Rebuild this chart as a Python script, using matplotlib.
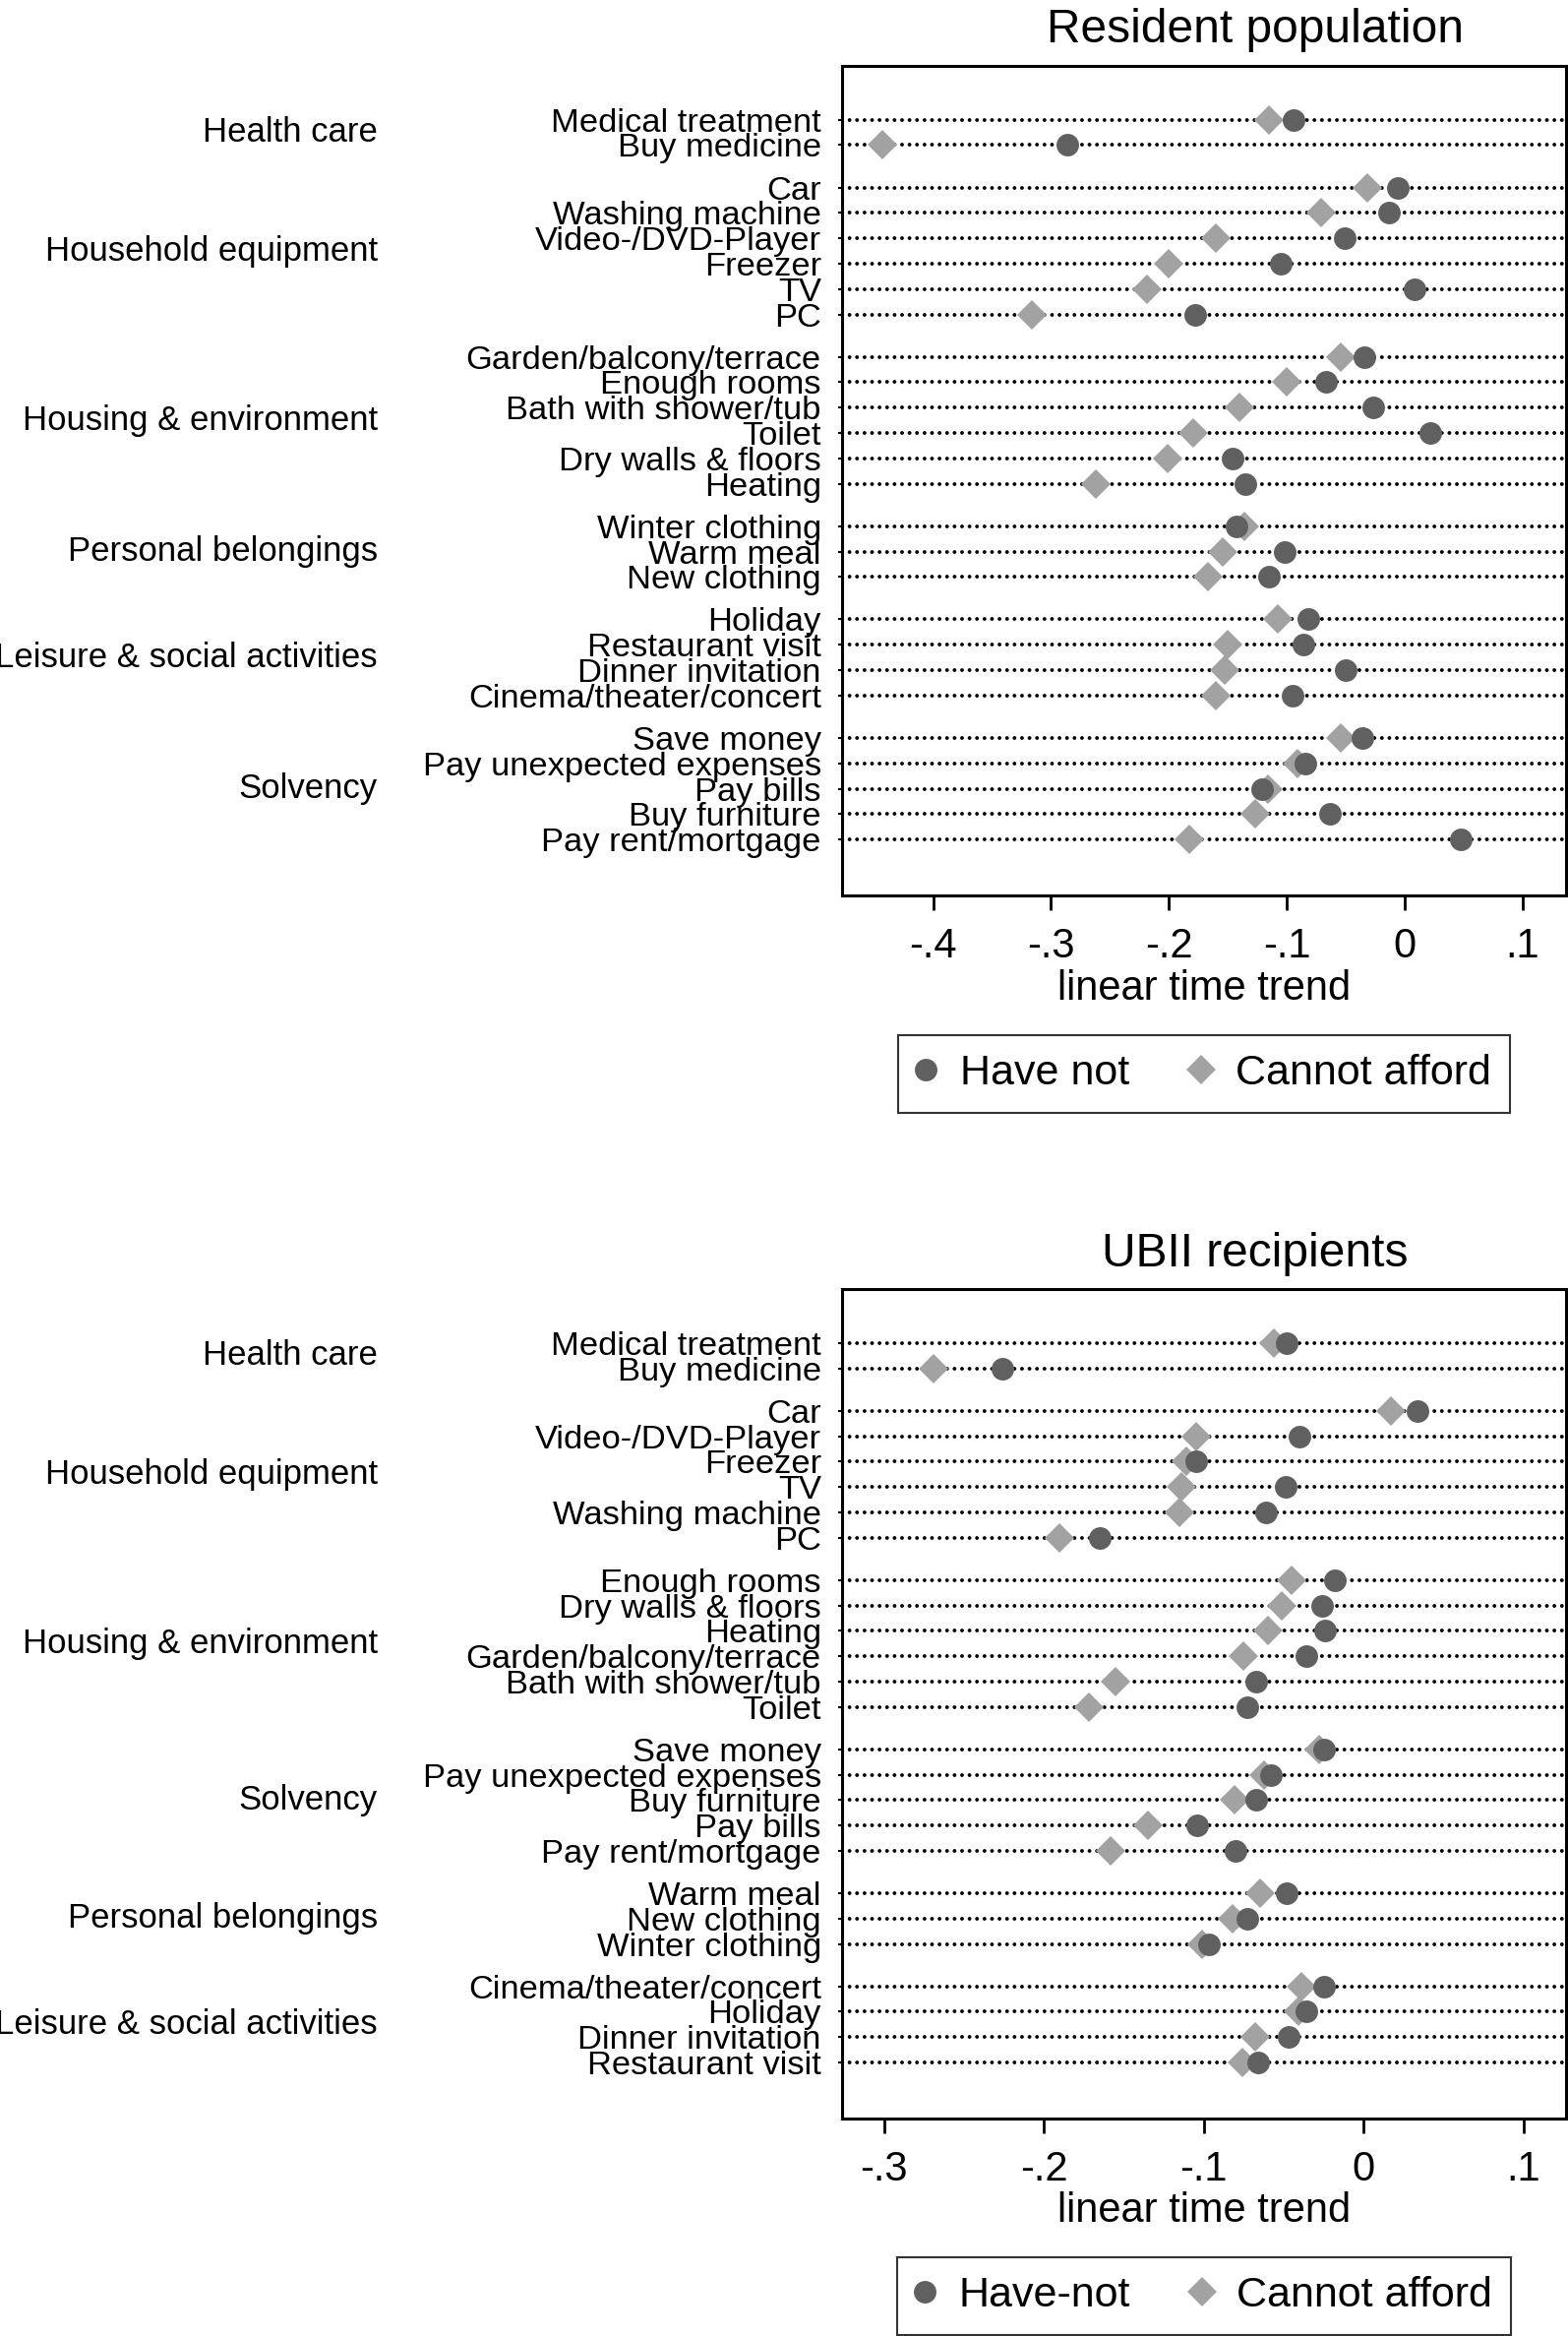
import matplotlib.pyplot as plt
from matplotlib.lines import Line2D

plt.rcParams['font.family'] = ['Liberation Sans', 'DejaVu Sans']

# ---- Resident population ----
groups_top = ["Health care", "Household equipment", "Housing & environment",
              "Personal belongings", "Leisure & social activities", "Solvency"]
items_top = [
    ["Medical treatment", "Buy medicine"],
    ["Car", "Washing machine", "Video-/DVD-Player", "Freezer", "TV", "PC"],
    ["Garden/balcony/terrace", "Enough rooms", "Bath with shower/tub", "Toilet",
     "Dry walls & floors", "Heating"],
    ["Winter clothing", "Warm meal", "New clothing"],
    ["Holiday", "Restaurant visit", "Dinner invitation", "Cinema/theater/concert"],
    ["Save money", "Pay unexpected expenses", "Pay bills", "Buy furniture", "Pay rent/mortgage"],
]
have_not_top = [-0.094, -0.286,
                -0.006, -0.013, -0.051, -0.105, 0.008, -0.178,
                -0.034, -0.067, -0.027, 0.022, -0.146, -0.135,
                -0.143, -0.102, -0.115,
                -0.082, -0.086, -0.050, -0.095,
                -0.036, -0.084, -0.121, -0.063, 0.048]
cannot_top = [-0.115, -0.443,
              -0.032, -0.071, -0.160, -0.200, -0.219, -0.316,
              -0.054, -0.100, -0.140, -0.179, -0.201, -0.262,
              -0.136, -0.154, -0.167,
              -0.108, -0.150, -0.153, -0.160,
              -0.054, -0.091, -0.116, -0.127, -0.183]
xticks_top = [-0.4, -0.3, -0.2, -0.1, 0, 0.1]
xticklabels_top = ["-.4", "-.3", "-.2", "-.1", "0", ".1"]

# ---- UBII recipients ----
groups_bot = ["Health care", "Household equipment", "Housing & environment",
              "Solvency", "Personal belongings", "Leisure & social activities"]
items_bot = [
    ["Medical treatment", "Buy medicine"],
    ["Car", "Video-/DVD-Player", "Freezer", "TV", "Washing machine", "PC"],
    ["Enough rooms", "Dry walls & floors", "Heating", "Garden/balcony/terrace",
     "Bath with shower/tub", "Toilet"],
    ["Save money", "Pay unexpected expenses", "Buy furniture", "Pay bills", "Pay rent/mortgage"],
    ["Warm meal", "New clothing", "Winter clothing"],
    ["Cinema/theater/concert", "Holiday", "Dinner invitation", "Restaurant visit"],
]
have_not_bot = [-0.048, -0.226,
                0.034, -0.040, -0.105, -0.049, -0.061, -0.165,
                -0.018, -0.026, -0.024, -0.036, -0.067, -0.073,
                -0.025, -0.058, -0.067, -0.104, -0.080,
                -0.048, -0.073, -0.097,
                -0.025, -0.036, -0.047, -0.066]
cannot_bot = [-0.056, -0.269,
              0.017, -0.105, -0.111, -0.114, -0.115, -0.190,
              -0.045, -0.051, -0.060, -0.075, -0.155, -0.172,
              -0.028, -0.062, -0.081, -0.135, -0.158,
              -0.065, -0.082, -0.101,
              -0.039, -0.041, -0.068, -0.076]
xticks_bot = [-0.3, -0.2, -0.1, 0, 0.1]
xticklabels_bot = ["-.3", "-.2", "-.1", "0", ".1"]

c_have = '#606060'
c_cannot = '#a2a2a2'

fig = plt.figure(figsize=(15.94, 23.74), dpi=100)


def panel(rect, groups, items, have_not, cannot, xticks, xticklabels, xlim,
          title, title_y, leg_label, leg_y):
    ax = fig.add_axes(rect)
    ys = []
    labels = []
    centers = []
    y = 0.0
    for g, its in zip(groups, items):
        start = y
        for it in its:
            ys.append(y)
            labels.append(it)
            y += 1
        centers.append((start + y - 1) / 2)
        y += 0.67
    last = ys[-1]

    # dotted guide lines
    for yy in ys:
        ax.axhline(yy, color='black', lw=2.8, linestyle=(0, (0.01, 1.95)),
                   dash_capstyle='round', zorder=1)
    ax.plot(cannot, ys, ls='none', marker='D', ms=15.5, color=c_cannot,
            mew=0, zorder=3)
    ax.plot(have_not, ys, ls='none', marker='o', ms=16.5, color=c_have,
            mew=0, zorder=4)

    ax.set_ylim(last + 2.2, -2.13)
    ax.set_xlim(xlim)
    ax.set_yticks(ys)
    ax.set_yticklabels(labels, fontsize=24.8)
    ax.tick_params(axis='y', length=3, width=1.5, pad=12)
    ax.set_xticks(xticks)
    ax.set_xticklabels(xticklabels, fontsize=30)
    ax.tick_params(axis='x', length=11, width=2, pad=12)
    ax.set_xlabel("linear time trend", fontsize=30, labelpad=2)
    for s in ax.spines.values():
        s.set_linewidth(2.2)

    for g, c in zip(groups, centers):
        ax.text(-0.641, c, g, transform=ax.get_yaxis_transform(),
                ha='right', va='center', fontsize=25)

    fig.text(0.8004, title_y, title, ha='center', va='baseline', fontsize=34.5)

    handles = [Line2D([], [], ls='none', marker='o', ms=16.5, color=c_have, mew=0),
               Line2D([], [], ls='none', marker='D', ms=15.5, color=c_cannot, mew=0)]
    leg = fig.legend(handles, [leg_label, "Cannot afford"], loc='upper center',
                     bbox_to_anchor=(0.768, leg_y), ncol=2, fontsize=31,
                     frameon=True, fancybox=False, edgecolor='black',
                     handletextpad=0.6, columnspacing=1.5, borderpad=0.45,
                     handlelength=0.4, borderaxespad=0)
    leg.get_frame().set_linewidth(1.5)
    return ax


panel([0.5368, 0.6167, 0.4617, 0.3552], groups_top, items_top,
      have_not_top, cannot_top, xticks_top, xticklabels_top, (-0.4776, 0.1366),
      "Resident population", 1 - 43 / 2374, "Have not", 1 - 1052 / 2374)

panel([0.5368, 0.0932, 0.4617, 0.355], groups_bot, items_bot,
      have_not_bot, cannot_bot, xticks_bot, xticklabels_bot, (-0.3265, 0.1264),
      "UBII recipients", 1 - 1287 / 2374, "Have-not", 1 - 2294 / 2374)

fig.savefig("out.png", dpi=100)
